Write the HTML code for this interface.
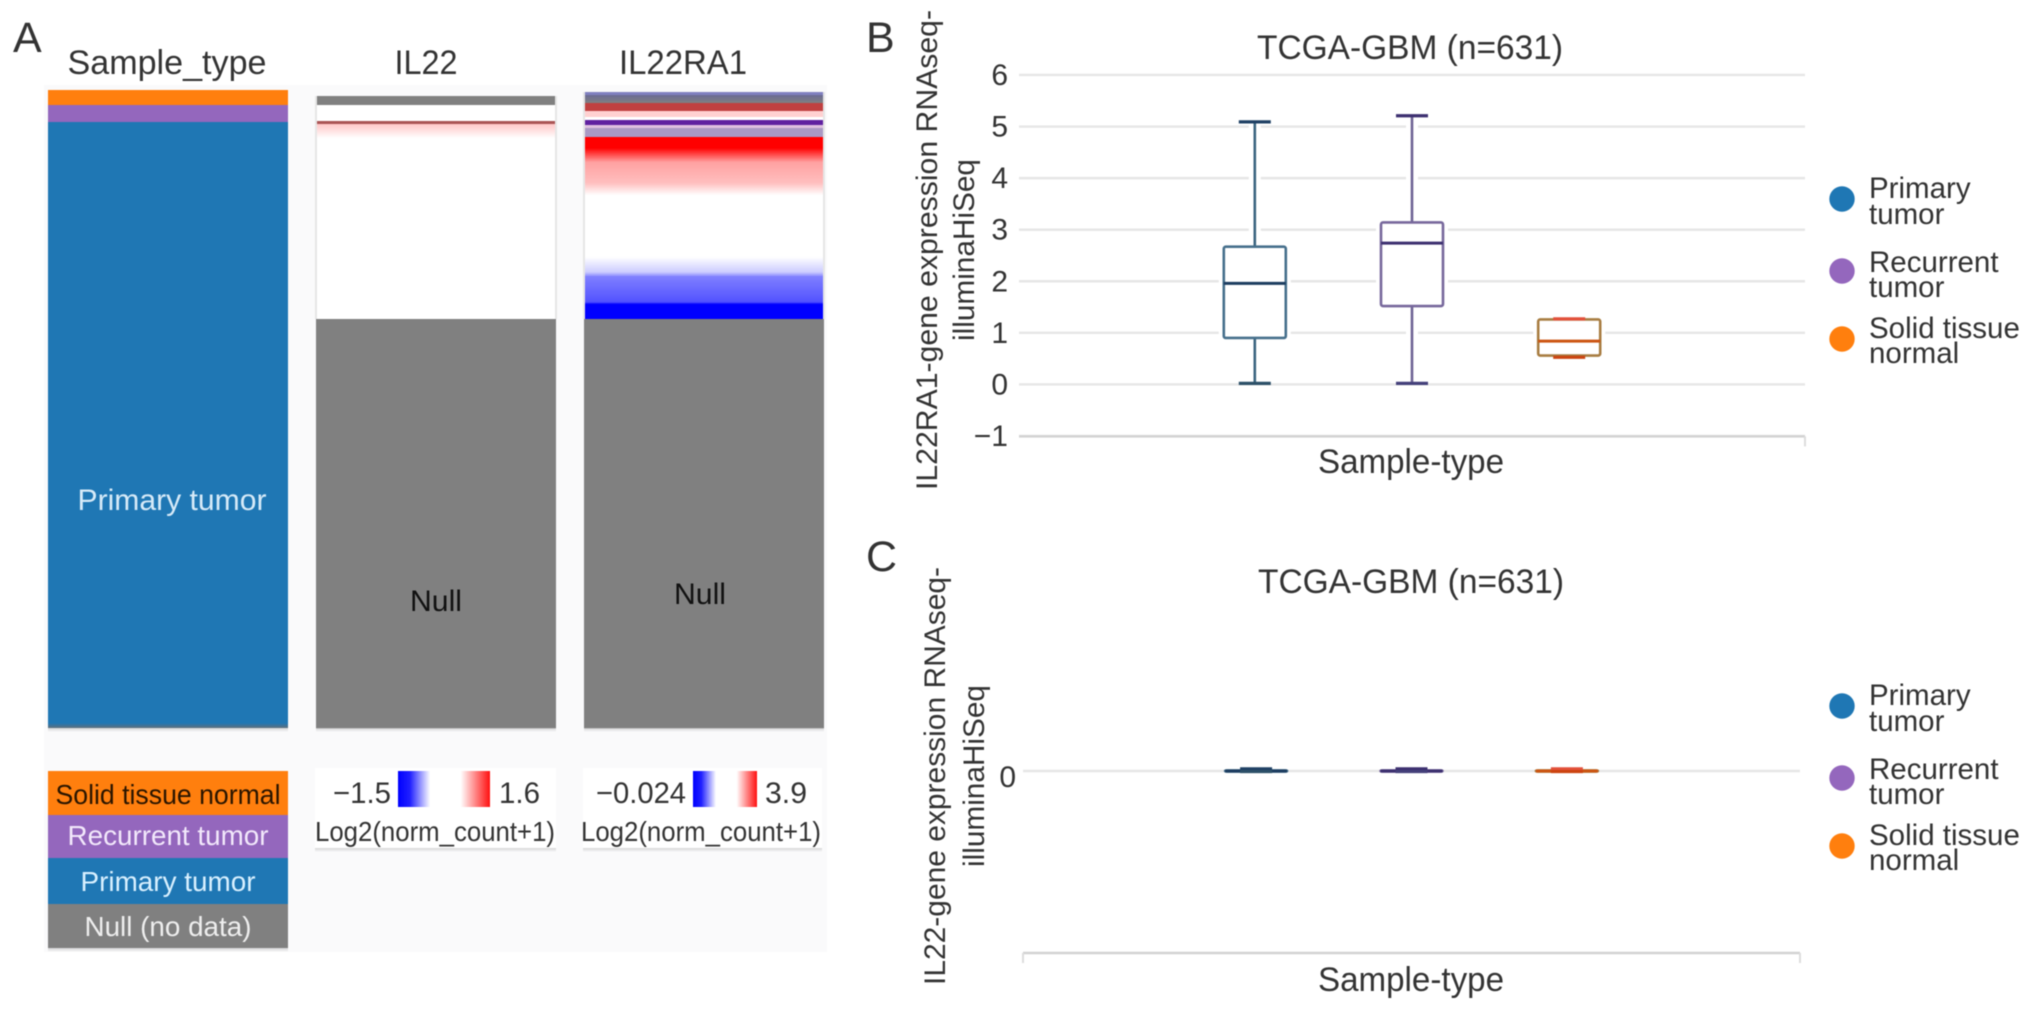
<!DOCTYPE html>
<html lang="en">
<head>
<meta charset="utf-8">
<title>TCGA-GBM IL22 and IL22RA1 expression</title>
<style>
html,body{margin:0;padding:0;background:#fff;width:2032px;height:1010px;overflow:hidden}
svg{display:block;font-family:"Liberation Sans",sans-serif;filter:blur(0.55px)}
text{fill:#333}
</style>
</head>
<body>
<svg id="figure" xmlns="http://www.w3.org/2000/svg" width="2032" height="1010" viewBox="0 0 2032 1010">
  <defs>
    <linearGradient id="bar-grad-1" x1="0" x2="1" y1="0" y2="0">
      <stop offset="0" stop-color="#0000ff"/><stop offset="0.13" stop-color="#2020ff"/><stop offset="0.35" stop-color="#fff"/>
      <stop offset="0.68" stop-color="#fff"/><stop offset="1" stop-color="#ff1010"/>
    </linearGradient>
    <linearGradient id="bar-grad-2" x1="0" x2="1" y1="0" y2="0">
      <stop offset="0" stop-color="#0000ff"/><stop offset="0.13" stop-color="#2020ff"/><stop offset="0.36" stop-color="#fff"/>
      <stop offset="0.68" stop-color="#fff"/><stop offset="1" stop-color="#ff1010"/>
    </linearGradient>
    <linearGradient id="col-edge" x1="0" x2="0" y1="0" y2="1">
      <stop offset="0" stop-color="#1f77b4"/><stop offset="1" stop-color="#5f6f7c"/>
    </linearGradient>
    <linearGradient id="shadow-fade" x1="0" x2="0" y1="0" y2="1">
      <stop offset="0" stop-color="#aaa" stop-opacity="0.45"/><stop offset="1" stop-color="#aaa" stop-opacity="0"/>
    </linearGradient>
  </defs>

  <rect x="44" y="85" width="783" height="867" fill="#fafafb"/>

  <text x="13" y="52" font-size="43" fill="#222">A</text>
  <text x="866" y="52" font-size="43" fill="#222">B</text>
  <text x="866" y="571" font-size="43" fill="#222">C</text>

  <text x="167" y="74" font-size="34" text-anchor="middle" textLength="199" lengthAdjust="spacingAndGlyphs">Sample_type</text>
  <text x="426" y="74" font-size="34" text-anchor="middle" textLength="63" lengthAdjust="spacingAndGlyphs">IL22</text>
  <text x="683" y="74" font-size="34" text-anchor="middle" textLength="128" lengthAdjust="spacingAndGlyphs">IL22RA1</text>

  <g id="heatmap-layer"></g>

  <text x="172" y="510" font-size="30" text-anchor="middle" textLength="189" lengthAdjust="spacingAndGlyphs" style="fill:#d6eaf8">Primary tumor</text>
  <text x="436" y="611" font-size="30" text-anchor="middle" textLength="52" lengthAdjust="spacingAndGlyphs" style="fill:#111">Null</text>
  <text x="700" y="604" font-size="30" text-anchor="middle" textLength="52" lengthAdjust="spacingAndGlyphs" style="fill:#111">Null</text>

  <g>
    <rect x="48" y="948" width="240" height="4" fill="url(#shadow-fade)"/>
    <rect x="48" y="771" width="240" height="44" fill="#ff7f0e"/>
    <rect x="48" y="815" width="240" height="43" fill="#9467bd"/>
    <rect x="48" y="858" width="240" height="46" fill="#1f77b4"/>
    <rect x="48" y="904" width="240" height="44" fill="#808080"/>
    <text x="168" y="804" font-size="28" text-anchor="middle" textLength="225" lengthAdjust="spacingAndGlyphs" style="fill:#2a1500">Solid tissue normal</text>
    <text x="168" y="845" font-size="28" text-anchor="middle" textLength="201" lengthAdjust="spacingAndGlyphs" style="fill:#f2e8fb">Recurrent tumor</text>
    <text x="168" y="891" font-size="28" text-anchor="middle" textLength="175" lengthAdjust="spacingAndGlyphs" style="fill:#d8f0ff">Primary tumor</text>
    <text x="168" y="936" font-size="28" text-anchor="middle" textLength="167" lengthAdjust="spacingAndGlyphs" style="fill:#eee">Null (no data)</text>
  </g>

  <g>
    <rect x="315" y="768" width="241" height="80" fill="#fff"/>
    <rect x="315" y="848" width="241" height="4" fill="url(#shadow-fade)"/>
    <rect x="398" y="771" width="92" height="36" fill="url(#bar-grad-1)"/>
    <text x="391" y="803" font-size="30" text-anchor="end" textLength="58" lengthAdjust="spacingAndGlyphs">−1.5</text>
    <text x="499" y="803" font-size="30" textLength="41" lengthAdjust="spacingAndGlyphs">1.6</text>
    <text x="435" y="841" font-size="27.5" text-anchor="middle" textLength="240" lengthAdjust="spacingAndGlyphs">Log2(norm_count+1)</text>
  </g>
  <g>
    <rect x="583" y="768" width="239" height="80" fill="#fff"/>
    <rect x="583" y="848" width="239" height="4" fill="url(#shadow-fade)"/>
    <rect x="693" y="771" width="64" height="36" fill="url(#bar-grad-2)"/>
    <text x="686" y="803" font-size="30" text-anchor="end" textLength="90" lengthAdjust="spacingAndGlyphs">−0.024</text>
    <text x="765" y="803" font-size="30" textLength="42" lengthAdjust="spacingAndGlyphs">3.9</text>
    <text x="701" y="841" font-size="27.5" text-anchor="middle" textLength="240" lengthAdjust="spacingAndGlyphs">Log2(norm_count+1)</text>
  </g>

  <text x="1410" y="59" font-size="34" text-anchor="middle" textLength="306" lengthAdjust="spacingAndGlyphs">TCGA-GBM (n=631)</text>
  <text transform="rotate(-90 937 250)" x="937" y="250" font-size="29.6" text-anchor="middle" textLength="480" lengthAdjust="spacingAndGlyphs">IL22RA1-gene expression RNAseq-</text>
  <text transform="rotate(-90 974 250)" x="974" y="250" font-size="29.6" text-anchor="middle" textLength="182" lengthAdjust="spacingAndGlyphs">illuminaHiSeq</text>
  <text x="1411" y="473" font-size="34" text-anchor="middle" textLength="186" lengthAdjust="spacingAndGlyphs">Sample-type</text>
  <g id="chart-b"></g>

  <text x="1411" y="593" font-size="34" text-anchor="middle" textLength="306" lengthAdjust="spacingAndGlyphs">TCGA-GBM (n=631)</text>
  <text transform="rotate(-90 945 776)" x="945" y="776" font-size="29.6" text-anchor="middle" textLength="418" lengthAdjust="spacingAndGlyphs">IL22-gene expression RNAseq-</text>
  <text transform="rotate(-90 984 776)" x="984" y="776" font-size="29.6" text-anchor="middle" textLength="182" lengthAdjust="spacingAndGlyphs">illuminaHiSeq</text>
  <text x="1411" y="991" font-size="34" text-anchor="middle" textLength="186" lengthAdjust="spacingAndGlyphs">Sample-type</text>
  <g id="chart-c"></g>

  <g>
    <circle cx="1842" cy="199" r="12.7" fill="#1f77b4"/>
    <text x="1869" y="198" font-size="29.5">Primary</text>
    <text x="1869" y="224" font-size="29.5">tumor</text>
    <circle cx="1842" cy="271" r="12.7" fill="#9467bd"/>
    <text x="1869" y="272" font-size="29.5">Recurrent</text>
    <text x="1869" y="297" font-size="29.5">tumor</text>
    <circle cx="1842" cy="339" r="12.7" fill="#ff7f0e"/>
    <text x="1869" y="338" font-size="29.5">Solid tissue</text>
    <text x="1869" y="363" font-size="29.5">normal</text>
  </g>
  <g transform="translate(0 507)">
    <circle cx="1842" cy="199" r="12.7" fill="#1f77b4"/>
    <text x="1869" y="198" font-size="29.5">Primary</text>
    <text x="1869" y="224" font-size="29.5">tumor</text>
    <circle cx="1842" cy="271" r="12.7" fill="#9467bd"/>
    <text x="1869" y="272" font-size="29.5">Recurrent</text>
    <text x="1869" y="297" font-size="29.5">tumor</text>
    <circle cx="1842" cy="339" r="12.7" fill="#ff7f0e"/>
    <text x="1869" y="338" font-size="29.5">Solid tissue</text>
    <text x="1869" y="363" font-size="29.5">normal</text>
  </g>
</svg>

<script>
// ---- box plot data ----
const categories = ['Primary tumor', 'Recurrent tumor', 'Solid tissue normal'];
const bTicks = [6, 5, 4, 3, 2, 1, 0, -1];
const bWhiskerHigh = [5.09, 5.21, 1.27];
const bQ3 = [2.67, 3.14, 1.26];
const bMedian = [1.96, 2.74, 0.84];
const bQ1 = [0.90, 1.52, 0.56];
const bWhiskerLow = [0.02, 0.02, 0.525];

const cTicks = [0];
const cWhiskerHigh = [0.012, 0.012, 0.012];
const cQ3 = [0.003, 0.003, 0.003];
const cMedian = [0, 0, 0];
const cQ1 = [-0.003, -0.003, -0.003];
const cWhiskerLow = [-0.003, -0.003, -0.003];

// ---- heatmap data (row counts from top; value in -1..1, null = no data; a list is an averaged run of rows) ----
const sampleTypeNames = ['Solid tissue normal', 'Recurrent tumor', 'Primary tumor'];
const sampleTypeRows = [15, 17, 601];

const il22Rows = [9, 16, 3, 14, 181, 409];
const il22Start = [null, 0, [null, null, 1], 0.22, 0, null];
const il22End = [null, 0, [null, null, 1], 0, 0, null];

const il22ra1Rows = [3, 8, 8, 6, 3, 5, 3, 9, 11, 14, 21, 12, 62, 15, 4, 26, 2, 15, 409];
const il22ra1Start = [[null, -0.5], [null, null, null, null, null, -1], [null, 1], 0.18, 0, [-1, -1, 1, null], [0.25, -0.25], [null, 0.2, -0.5], 1, 1, 0.37, 0.25, 0, 0, -0.2, -0.5, -0.68, -1, null];
const il22ra1End = [[null, -0.5], null, [null, 1], 0.18, 0, [-1, -1, 1, null], [0.25, -0.25], [null, 0.2, -0.5], 1, 0.37, 0.25, 0, 0, -0.2, -0.45, -0.68, -1, -1, null];

const NS = 'http://www.w3.org/2000/svg';
function make(parent, tag, attrs) {
  const el = document.createElementNS(NS, tag);
  for (const k in attrs) el.setAttribute(k, attrs[k]);
  parent.appendChild(el);
  return el;
}

// ---- heatmap colour scale ----
function rowRgb(v) {
  if (v === null) return [128, 128, 128];
  if (v >= 0) return [255, 255 * (1 - v), 255 * (1 - v)];
  return [255 * (1 + v), 255 * (1 + v), 255];
}
function heatColor(v) {
  const list = Array.isArray(v) ? v : [v];
  const sum = [0, 0, 0];
  list.forEach(function (x) {
    const c = rowRgb(x);
    sum[0] += c[0]; sum[1] += c[1]; sum[2] += c[2];
  });
  return 'rgb(' + sum.map(function (s) { return Math.round(s / list.length); }).join(',') + ')';
}

const heatLayer = document.getElementById('heatmap-layer');
const svgDefs = document.querySelector('#figure defs');
let gradCount = 0;

function drawHeatColumn(prefix, left, width, top, rows, starts, ends) {
  let cum = 0;
  let dataRows = 0;
  rows.forEach(function (n, i) {
    let fill = heatColor(starts[i]);
    const a = fill;
    const b = heatColor(ends[i]);
    if (a !== b) {
      gradCount += 1;
      const id = 'band-grad-' + gradCount;
      const g = make(svgDefs, 'linearGradient', { id: id, x1: 0, x2: 0, y1: 0, y2: 1 });
      make(g, 'stop', { offset: 0, 'stop-color': a });
      make(g, 'stop', { offset: 1, 'stop-color': b });
      fill = 'url(#' + id + ')';
    }
    const r = make(heatLayer, 'rect', { x: left, y: top + cum, width: width, height: n + 0.3, fill: fill });
    
    
    cum += n;
    if (i < rows.length - 1) dataRows = cum;
  });
  [left, left + width].forEach(function (x) {
    const edge = make(heatLayer, 'line', { x1: x, x2: x, y1: top, y2: top + dataRows, stroke: '#e6e6e6', 'stroke-width': 2 });
    
    
  });
  const sh = make(heatLayer, 'rect', { x: left, y: top + cum, width: width, height: 4, fill: 'url(#shadow-fade)' });
  
  
}

const sampleColors = ['#ff7f0e', '#9467bd', '#1f77b4'];
let sampleCum = 0;
sampleTypeRows.forEach(function (n, i) {
  const r = make(heatLayer, 'rect', { x: 48, y: 90 + sampleCum, width: 240, height: n + 0.3, fill: sampleColors[i] });
  
  
  sampleCum += n;
});
const sampleEdge = make(heatLayer, 'rect', { x: 48, y: 90 + sampleCum, width: 240, height: 5, fill: 'url(#col-edge)' });


const sampleShadow = make(heatLayer, 'rect', { x: 48, y: 95 + sampleCum, width: 240, height: 4, fill: 'url(#shadow-fade)' });



drawHeatColumn('il22', 316, 240, 96, il22Rows, il22Start, il22End);
drawHeatColumn('il22ra1', 584, 240, 92, il22ra1Rows, il22ra1Start, il22ra1End);

// ---- box plots ----
const boxStroke = ['#47708c', '#77689c', '#a87d42'];
const whiskerStroke = ['#3c6680', '#6f6494', '#a87d42'];
const medianStroke = ['#1c3d60', '#3d3070', '#cc5512'];
const capHighStroke = ['#1f4064', '#3d3070', '#e2503a'];
const capLowStroke = ['#2c5068', '#44407a', '#cc4410'];

function drawBoxChart(host, prefix, cfg) {
  const xBand = function (i) { return cfg.left + (cfg.right - cfg.left) / 5 * (i + 1.5); };
  const yPos = function (v) { return cfg.zeroY - v * cfg.unit; };

  cfg.ticks.forEach(function (t) {
    const y = yPos(t);
    const line = make(host, 'line', { x1: cfg.left, x2: cfg.right, y1: y, y2: y, stroke: '#e6e6e6', 'stroke-width': 2.4 });
    
    
    const label = make(host, 'text', { x: cfg.labelX, y: y + cfg.labelDy, 'font-size': 30, 'text-anchor': 'end' });
    
    
    label.textContent = String(t).replace('-', '\u2212');
  });

  const axis = make(host, 'line', { x1: cfg.left, x2: cfg.right, y1: cfg.axisY, y2: cfg.axisY, stroke: '#d2d2d2', 'stroke-width': 2.4 });
  
  
  cfg.axisTicks.forEach(function (x) {
    const tk = make(host, 'line', { x1: x, x2: x, y1: cfg.axisY, y2: cfg.axisY + 10, stroke: '#dcdcdc', 'stroke-width': 2 });
    
    
  });

  categories.forEach(function (cat, i) {
    const cx = xBand(i);
    const hw = 31;
    const capW = 16;
    const yHi = yPos(cfg.hi[i]);
    const yQ3 = yPos(cfg.q3[i]);
    const yMed = yPos(cfg.med[i]);
    const yQ1 = yPos(cfg.q1[i]);
    const yLo = yPos(cfg.lo[i]);

    const g = make(host, 'g', {});
    
    

    if (cfg.halo) {
      const haloW = make(g, 'line', { x1: cx, x2: cx, y1: yHi, y2: yLo, stroke: '#fff', 'stroke-width': 12 });
      
      
      const haloB = make(g, 'rect', { x: cx - hw - 5, y: yQ3 - 4, width: hw * 2 + 10, height: yQ1 - yQ3 + 8, fill: '#fff' });
      
      
    }

    const wHi = make(g, 'line', { x1: cx, x2: cx, y1: yHi, y2: yQ3, stroke: whiskerStroke[i], 'stroke-width': 2.6 });
    
    
    const wLo = make(g, 'line', { x1: cx, x2: cx, y1: yQ1, y2: yLo, stroke: whiskerStroke[i], 'stroke-width': 2.6 });
    
    

    const box = make(g, 'rect', { x: cx - hw, y: yQ3, width: hw * 2, height: Math.max(yQ1 - yQ3, 0.5), rx: 2, fill: cfg.halo ? '#fff' : 'none', stroke: boxStroke[i], 'stroke-width': 2.6 });
    
    

    const med = make(g, 'line', { x1: cx - hw, x2: cx + hw, y1: yMed, y2: yMed, stroke: medianStroke[i], 'stroke-width': 3 });
    
    

    const capHi = make(g, 'line', { x1: cx - capW, x2: cx + capW, y1: yHi, y2: yHi, stroke: capHighStroke[i], 'stroke-width': 3.2 });
    
    
    const capLo = make(g, 'line', { x1: cx - capW, x2: cx + capW, y1: yLo, y2: yLo, stroke: capLowStroke[i], 'stroke-width': 3.2 });
    
    
  });
}

drawBoxChart(document.getElementById('chart-b'), 'chart-b', {
  left: 1019, right: 1805, zeroY: 384.4, unit: 51.57, axisY: 436.4, labelX: 1008, labelDy: 10, halo: true,
  axisTicks: [1805],
  ticks: bTicks, hi: bWhiskerHigh, q3: bQ3, med: bMedian, q1: bQ1, lo: bWhiskerLow
});
drawBoxChart(document.getElementById('chart-c'), 'chart-c', {
  left: 1023, right: 1800, zeroY: 771, unit: 182, axisY: 953, labelX: 1016, labelDy: 16, halo: false,
  axisTicks: [1023, 1800],
  ticks: cTicks, hi: cWhiskerHigh, q3: cQ3, med: cMedian, q1: cQ1, lo: cWhiskerLow
});
</script>
</body>
</html>
